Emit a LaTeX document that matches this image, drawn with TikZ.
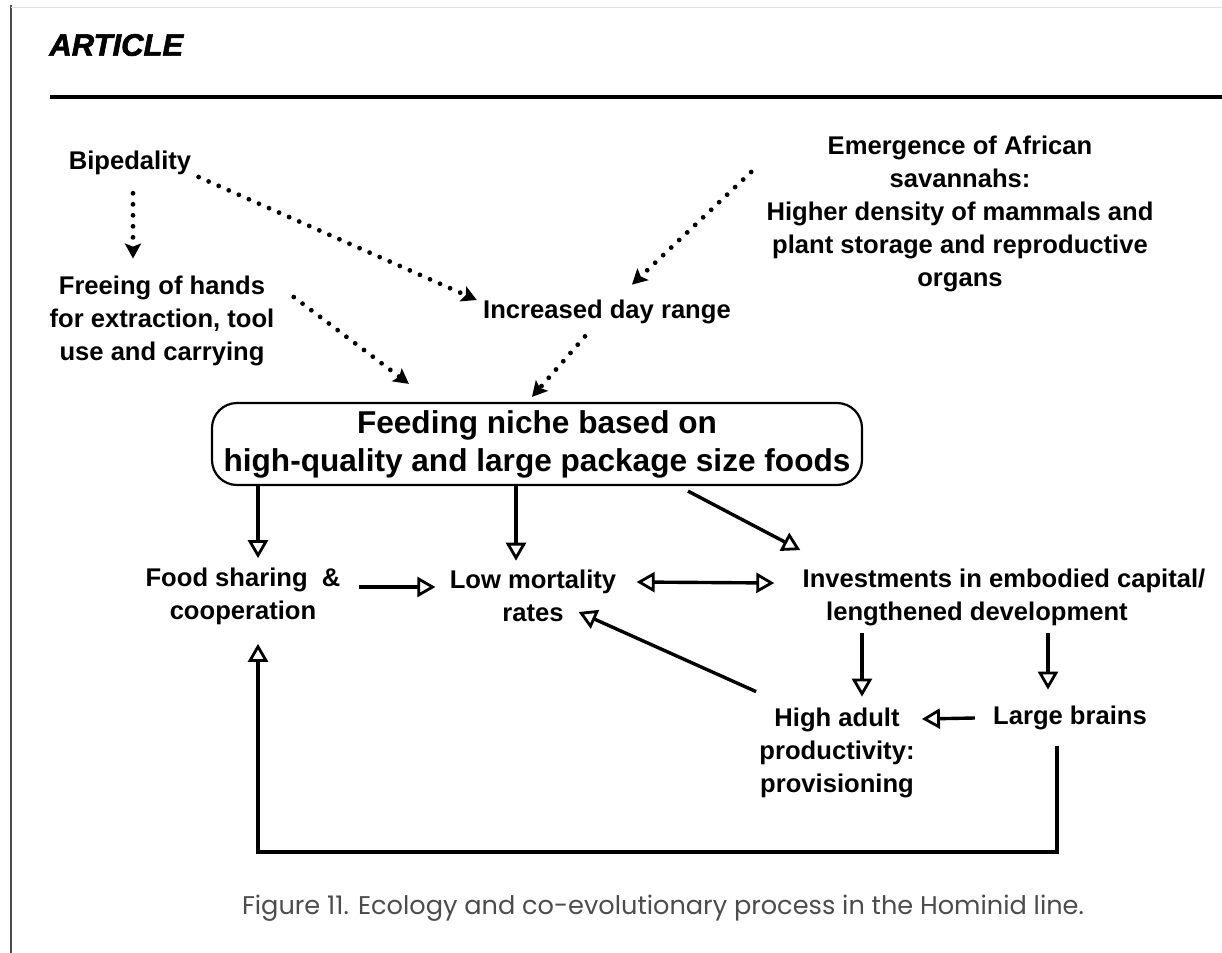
\documentclass[tikz,border=0pt]{standalone}
\usepackage{fontspec}
\setmainfont{Liberation Sans}
\newfontfamily\capfont{Poppins}
\newfontfamily\artfont[FakeBold=2]{Liberation Sans}
\usetikzlibrary{arrows.meta}
\begin{document}
\begin{tikzpicture}[x=0.5pt,y=-0.5pt,
  lbl/.style={font=\fontsize{12.8}{16.5}\selectfont\bfseries, align=center, inner sep=0pt},
  arr/.style={line width=1.7pt, -{Triangle[open,length=9pt,width=10pt,line width=1.4pt]}},
  dblarr/.style={line width=1.7pt, {Triangle[open,length=9pt,width=10pt,line width=1.4pt]}-{Triangle[open,length=9pt,width=10pt,line width=1.4pt]}},
  dotarr/.style={line width=2.4pt, dash pattern=on 0pt off 5.5pt, line cap=round, -{Stealth[length=7.5pt,width=8pt,inset=1.5pt]}},
]
\useasboundingbox (0,0) rectangle (1222,953);
\fill[white] (0,0) rectangle (1222,953);
% page frame
\draw[black!70, line width=0.6pt] (11,5) -- (11,953);
\draw[black!12, line width=0.5pt] (11,7) -- (1222,7);
\node[font=\artfont\bfseries\itshape\fontsize{15.5}{18}\selectfont, anchor=west, inner sep=0pt] (art) at (49,45) {ARTICLE};
\draw[line width=1.6pt] (50,97) -- (1222,97);

% nodes
\node[lbl] (bip) at (130,163) {Bipedality};
\node[lbl] (free) at (162,321) {Freeing of hands\\for extraction, tool\\use and carrying};
\node[lbl] (inc) at (607,312) {Increased day range};
\node[lbl] (sav) at (960,214) {Emergence of African\\savannahs:\\Higher density of mammals and\\plant storage and reproductive\\organs};
\node[draw, line width=1.1pt, rounded corners=12.5pt, minimum width=325pt, minimum height=41pt,
      align=center, inner sep=0pt, font=\fontsize{15.8}{19}\selectfont\bfseries] (box) at (537,444)
      {Feeding niche based on\\high-quality and large package size foods};
\node[lbl] (food) at (243,596) {Food sharing\ \ \&\\cooperation};
\node[lbl] (low) at (533,596) {Low mortality\\rates};
\node[lbl] (inv) at (1004,597) {Investments in embodied capital/\\lengthened development\hspace*{27pt}};
\node[lbl] (high) at (837,753) {High adult\\productivity:\\provisioning};
\node[lbl] (brain) at (1070,718) {Large brains};
\node[font=\capfont\fontsize{12.8}{15}\selectfont, text=black!70, inner sep=0pt] (cap) at (663,908)
      {Figure 11. Ecology and co-evolutionary process in the Hominid line.};

% helper columns
\coordinate (c1) at (258,0);
\coordinate (c2) at (516,0);
\coordinate (c3) at (862,0);
\coordinate (c4) at (1048,0);
\coordinate (c5) at (1057,0);
\coordinate (c6) at (0,852);

% dotted arrows
\draw[dotarr] ([xshift=1.5pt,yshift=-9pt]bip.south) -- ([xshift=-14.5pt,yshift=8.5pt]free.north);
\draw[dotarr] ([xshift=3.5pt,yshift=-7pt]bip.east) -- ([xshift=-3pt,yshift=6pt]inc.west);
\draw[dotarr] ([xshift=-7.5pt,yshift=21pt]sav.west) -- ([xshift=12.5pt,yshift=7.5pt]inc.north);
\draw[dotarr] ([xshift=-11pt,yshift=-6pt]inc.south) -- ([xshift=-2.5pt,yshift=2.5pt]box.north);
\draw[dotarr] ([xshift=9.5pt,yshift=12pt]free.east) -- ([xshift=99pt,yshift=9pt]box.north west);

% solid arrows
\draw[arr] (box.south -| c1) -- ([yshift=4.5pt]food.north -| c1);
\draw[arr] (box.south -| c2) -- ([yshift=4.5pt]low.north -| c2);
\draw[arr] ([xshift=75.5pt,yshift=-2.5pt]box.south) -- ([xshift=-1pt,yshift=9pt]inv.north west);
\draw[arr] ([xshift=9pt,yshift=4.5pt]food.east) -- ([xshift=-7pt,yshift=4.5pt]low.west);
\draw[dblarr] ([xshift=10pt,yshift=7pt]low.east) -- ([xshift=-14pt,yshift=7pt]inv.west);
\draw[arr] ([yshift=-3.5pt]inv.south -| c3) -- ([yshift=5.5pt]high.north -| c3);
\draw[arr] ([yshift=-3.5pt]inv.south -| c4) -- ([yshift=8pt]brain.north -| c4);
\draw[arr] ([xshift=-9pt]brain.west) -- ([xshift=3.5pt,yshift=17pt]high.east);
\draw[arr] ([xshift=-1.5pt,yshift=8pt]high.north west) -- ([xshift=-19pt,yshift=-8pt]low.east);
\draw[arr] ([yshift=-8pt]brain.south -| c5) -- (c5 |- c6) -- (c1 |- c6) -- ([yshift=-9.5pt]food.south -| c1);
\end{tikzpicture}
\end{document}
